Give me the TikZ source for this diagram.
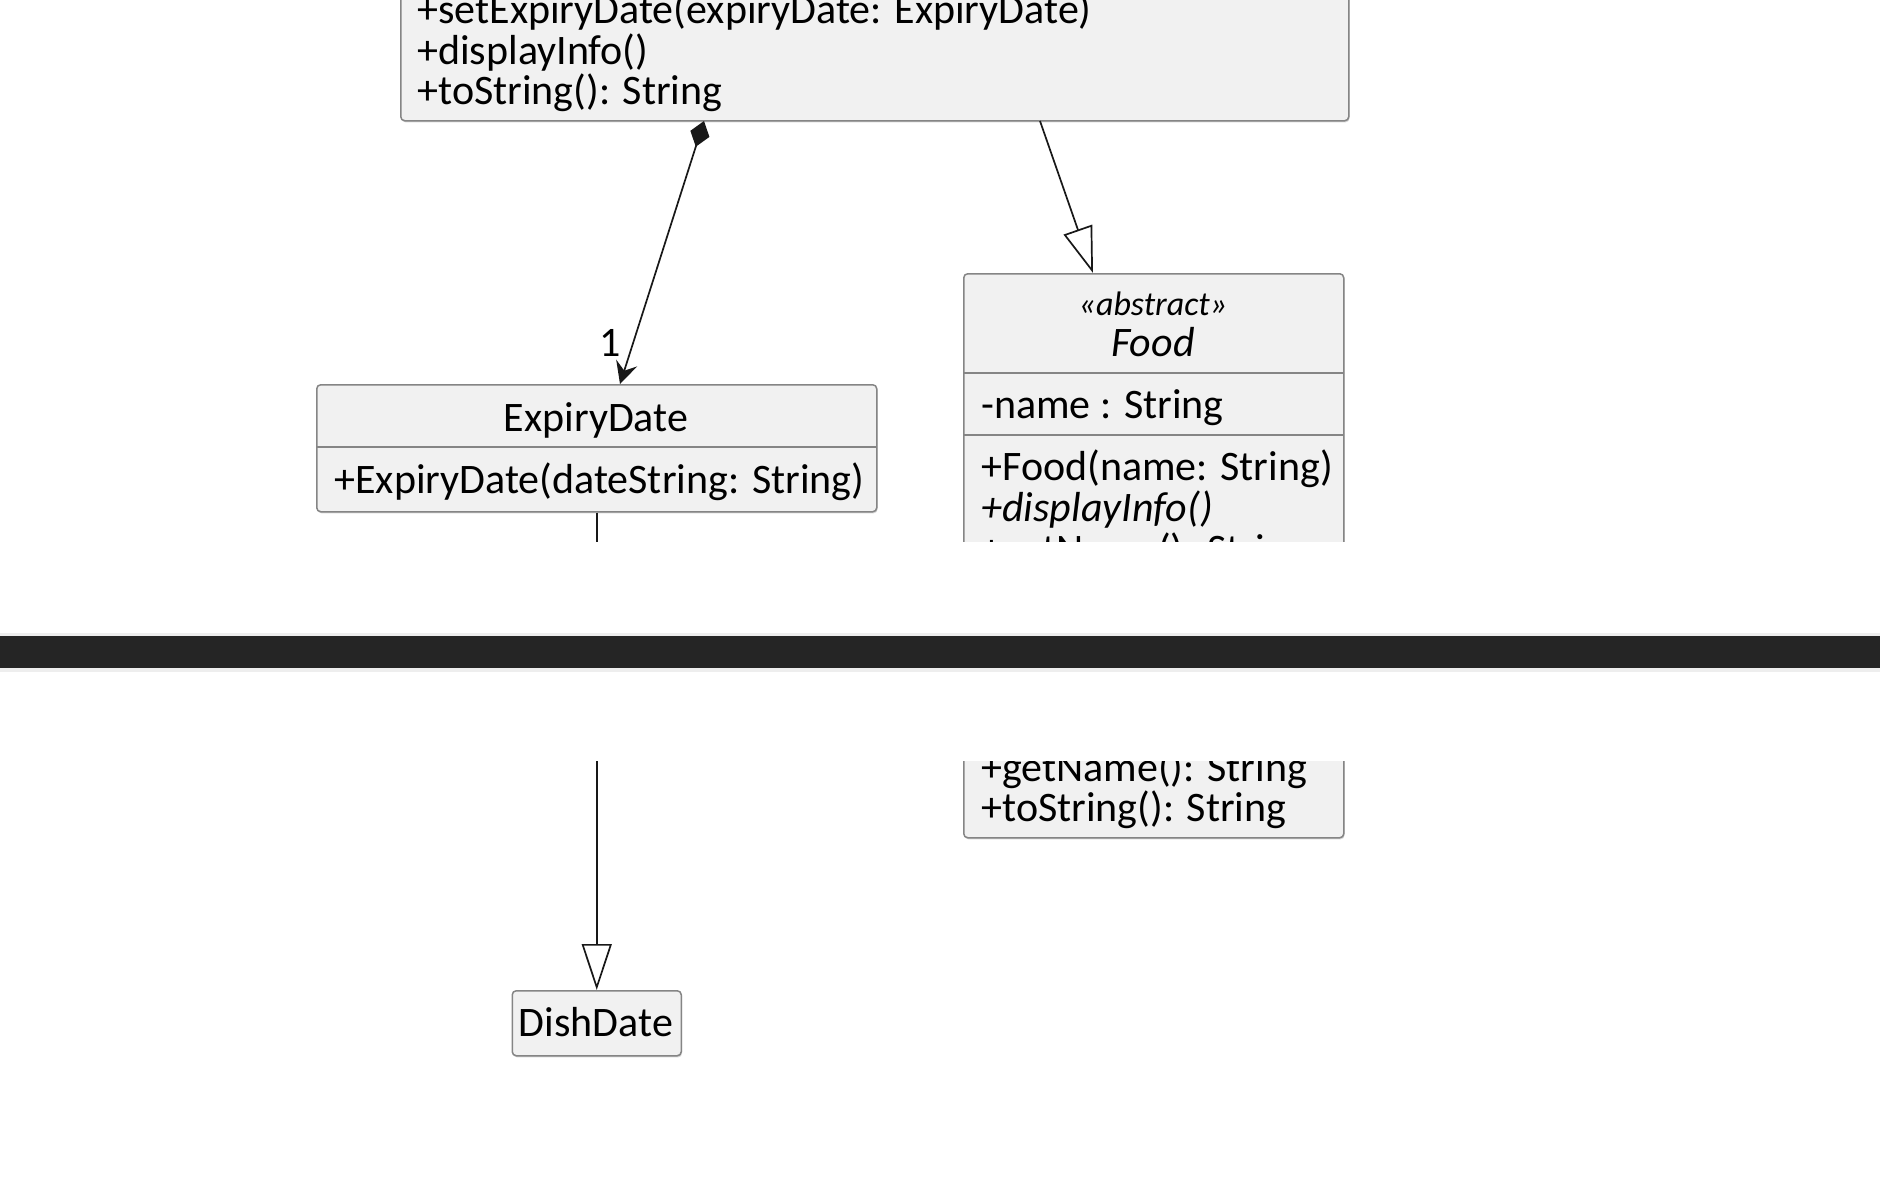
\documentclass[tikz,border=0pt]{standalone}
\usepackage{fontspec}
\setmainfont{Carlito}
\usetikzlibrary{arrows.meta,shadows}

\definecolor{boxfill}{HTML}{F1F1F1}
\definecolor{boxline}{HTML}{858585}
\definecolor{linkcol}{HTML}{181818}
\definecolor{barcol}{HTML}{252525}
\definecolor{baredge}{HTML}{EEEEEE}

\tikzset{
  classbox/.style={draw=boxline, fill=boxfill, line width=0.75pt, rounded corners=2pt,
    inner sep=0pt, anchor=north west,
    drop shadow={shadow xshift=0.4pt, shadow yshift=-0.8pt, fill=black!40, opacity=0.4}},
  member/.style={anchor=base west, inner sep=0pt, font=\fontsize{21}{25}\selectfont},
  ctitle/.style={anchor=base, inner sep=0pt, font=\fontsize{21}{25}\selectfont},
  divider/.style={draw=boxline, line width=0.75pt},
  link/.style={draw=linkcol, line width=0.85pt},
  extends/.style={link, -{Triangle[length=23pt, width=15pt, fill=white]}},
  owns/.style={link, {Diamond[length=13.5pt, width=10pt]}-{Stealth[length=11pt, width=11pt, inset=4pt]}}
}

\begin{document}
\begin{tikzpicture}[x=0.5pt, y=-0.5pt]
  \useasboundingbox (0,0) rectangle (1880,1184);

  % Dish (cut at the top)
  \node[classbox, minimum width=474pt, minimum height=90pt] (dish) at (400,-60) {};
  \node[member] (dishm1) at (417,23) {+setExpiryDate(expiryDate: ExpiryDate)};
  \node[member] (dishm2) at (417,64) {+displayInfo()};
  \node[member] (dishm3) at (417,104) {+toString(): String};

  % Food, upper half
  \node[classbox, minimum width=190pt, minimum height=163.5pt] (food) at (963,273) {};
  \node[ctitle, font=\fontsize{17}{20}\selectfont\itshape] (foodst) at (1153,315) {«abstract»};
  \node[ctitle, font=\fontsize{21}{25}\selectfont\itshape] (foodt) at (1153,356) {Food};
  \draw[divider] (963,373) -- (1343,373);
  \draw[divider] (963,435) -- (1343,435);
  \node[member] (foodf1) at (981,418) {-name : String};
  \node[member] (foodm1) at (981,480) {+Food(name: String)};
  \node[member, font=\fontsize{21}{25}\selectfont\itshape] (foodm2) at (981,521) {+displayInfo()};
  \node[member] (foodm3) at (981,563) {+getName(): String};

  % Food, lower half
  \node[classbox, minimum width=190pt, minimum height=58.5pt] (foodlow) at (963,720) {};
  \node[member] (foodm3b) at (981,781) {+getName(): String};
  \node[member] (foodm4) at (981,821) {+toString(): String};

  % ExpiryDate and DishDate
  \node[classbox, minimum width=280pt, minimum height=63.5pt] (expiry) at (316,384) {};
  \node[ctitle] (expiryt) at (596,431) {ExpiryDate};
  \draw[divider] (316,447) -- (876,447);
  \node[member] (expirym1) at (334,493) {+ExpiryDate(dateString: String)};

  \node[classbox, minimum width=84.5pt, minimum height=32.5pt] (dishdate) at (511.5,990) {};
  \node[ctitle] (dishdatet) at (596,1036) {DishDate};

  % links
  \coordinate (dishC) at (704,121);
  \coordinate (expiryC) at (620,384);
  \draw[owns] (dishC) -- (expiryC);
  \node[ctitle] (one) at (610,356) {1};

  \coordinate (dishG) at (1040,121);
  \coordinate (foodG) at (1093,273);
  \draw[extends] (dishG) -- (foodG);
  \draw[extends] (expiry.south) -- (dishdate.north);

  % screenshot seam
  \fill[white] (-10,542) rectangle (1890,761);
  \fill[baredge] (-10,633) rectangle (1890,672);
  \fill[barcol] (-10,636) rectangle (1890,668);
\end{tikzpicture}
\end{document}
